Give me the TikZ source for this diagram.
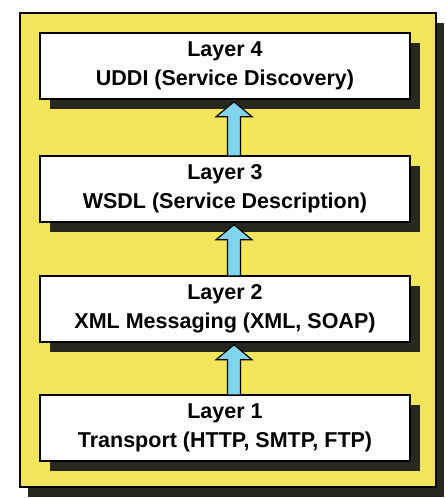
\documentclass[tikz,border=0pt]{standalone}
\usepackage{fontspec}
\setmainfont{Liberation Sans}
\usetikzlibrary{shadows,calc}
\definecolor{bgyellow}{RGB}{244,228,92}
\definecolor{arrowblue}{RGB}{128,212,236}
\definecolor{shadowc}{RGB}{40,40,32}
\tikzset{
  panel/.style={draw=black, line width=1.8pt, fill=bgyellow,
    drop shadow={shadow xshift=8pt, shadow yshift=-10pt, opacity=1, fill=shadowc}},
  layerbox/.style={draw=black, line width=1.5pt, fill=white, minimum width=370pt,
    minimum height=66pt, inner sep=0pt, align=center,
    font=\bfseries\fontsize{21.5}{29}\selectfont,
    drop shadow={shadow xshift=10pt, shadow yshift=-10pt, opacity=1, fill=shadowc}},
  uparrow/.style={draw=black, line width=1.2pt, fill=arrowblue, line join=miter}
}
\begin{document}
\begin{tikzpicture}[x=1pt,y=-1pt]
\useasboundingbox (0,0) rectangle (445,498);
\node[panel, minimum width=416pt, minimum height=474pt, inner sep=0pt] (panel) at (228,250) {};
\node[layerbox] (l4) at (225,66) {Layer 4\\UDDI (Service Discovery)};
\node[layerbox] (l3) at (225,189) {Layer 3\\WSDL (Service Description)};
\node[layerbox] (l2) at (225,309) {Layer 2\\XML Messaging (XML, SOAP)};
\node[layerbox] (l1) at (225,428) {Layer 1\\Transport (HTTP, SMTP, FTP)};
\foreach \lo/\hi in {l1/l2, l2/l3, l3/l4}{
  \coordinate (B) at ($(\lo.north)+(9,0)$);
  \coordinate (T) at ($(\hi.south)+(9,2)$);
  \draw[uparrow] ($(B)+(-6.5,0)$) -- ($(T)+(-6.5,15)$) -- ($(T)+(-18,15)$) -- (T)
    -- ($(T)+(18,15)$) -- ($(T)+(6.5,15)$) -- ($(B)+(6.5,0)$);
}
\end{tikzpicture}
\end{document}
